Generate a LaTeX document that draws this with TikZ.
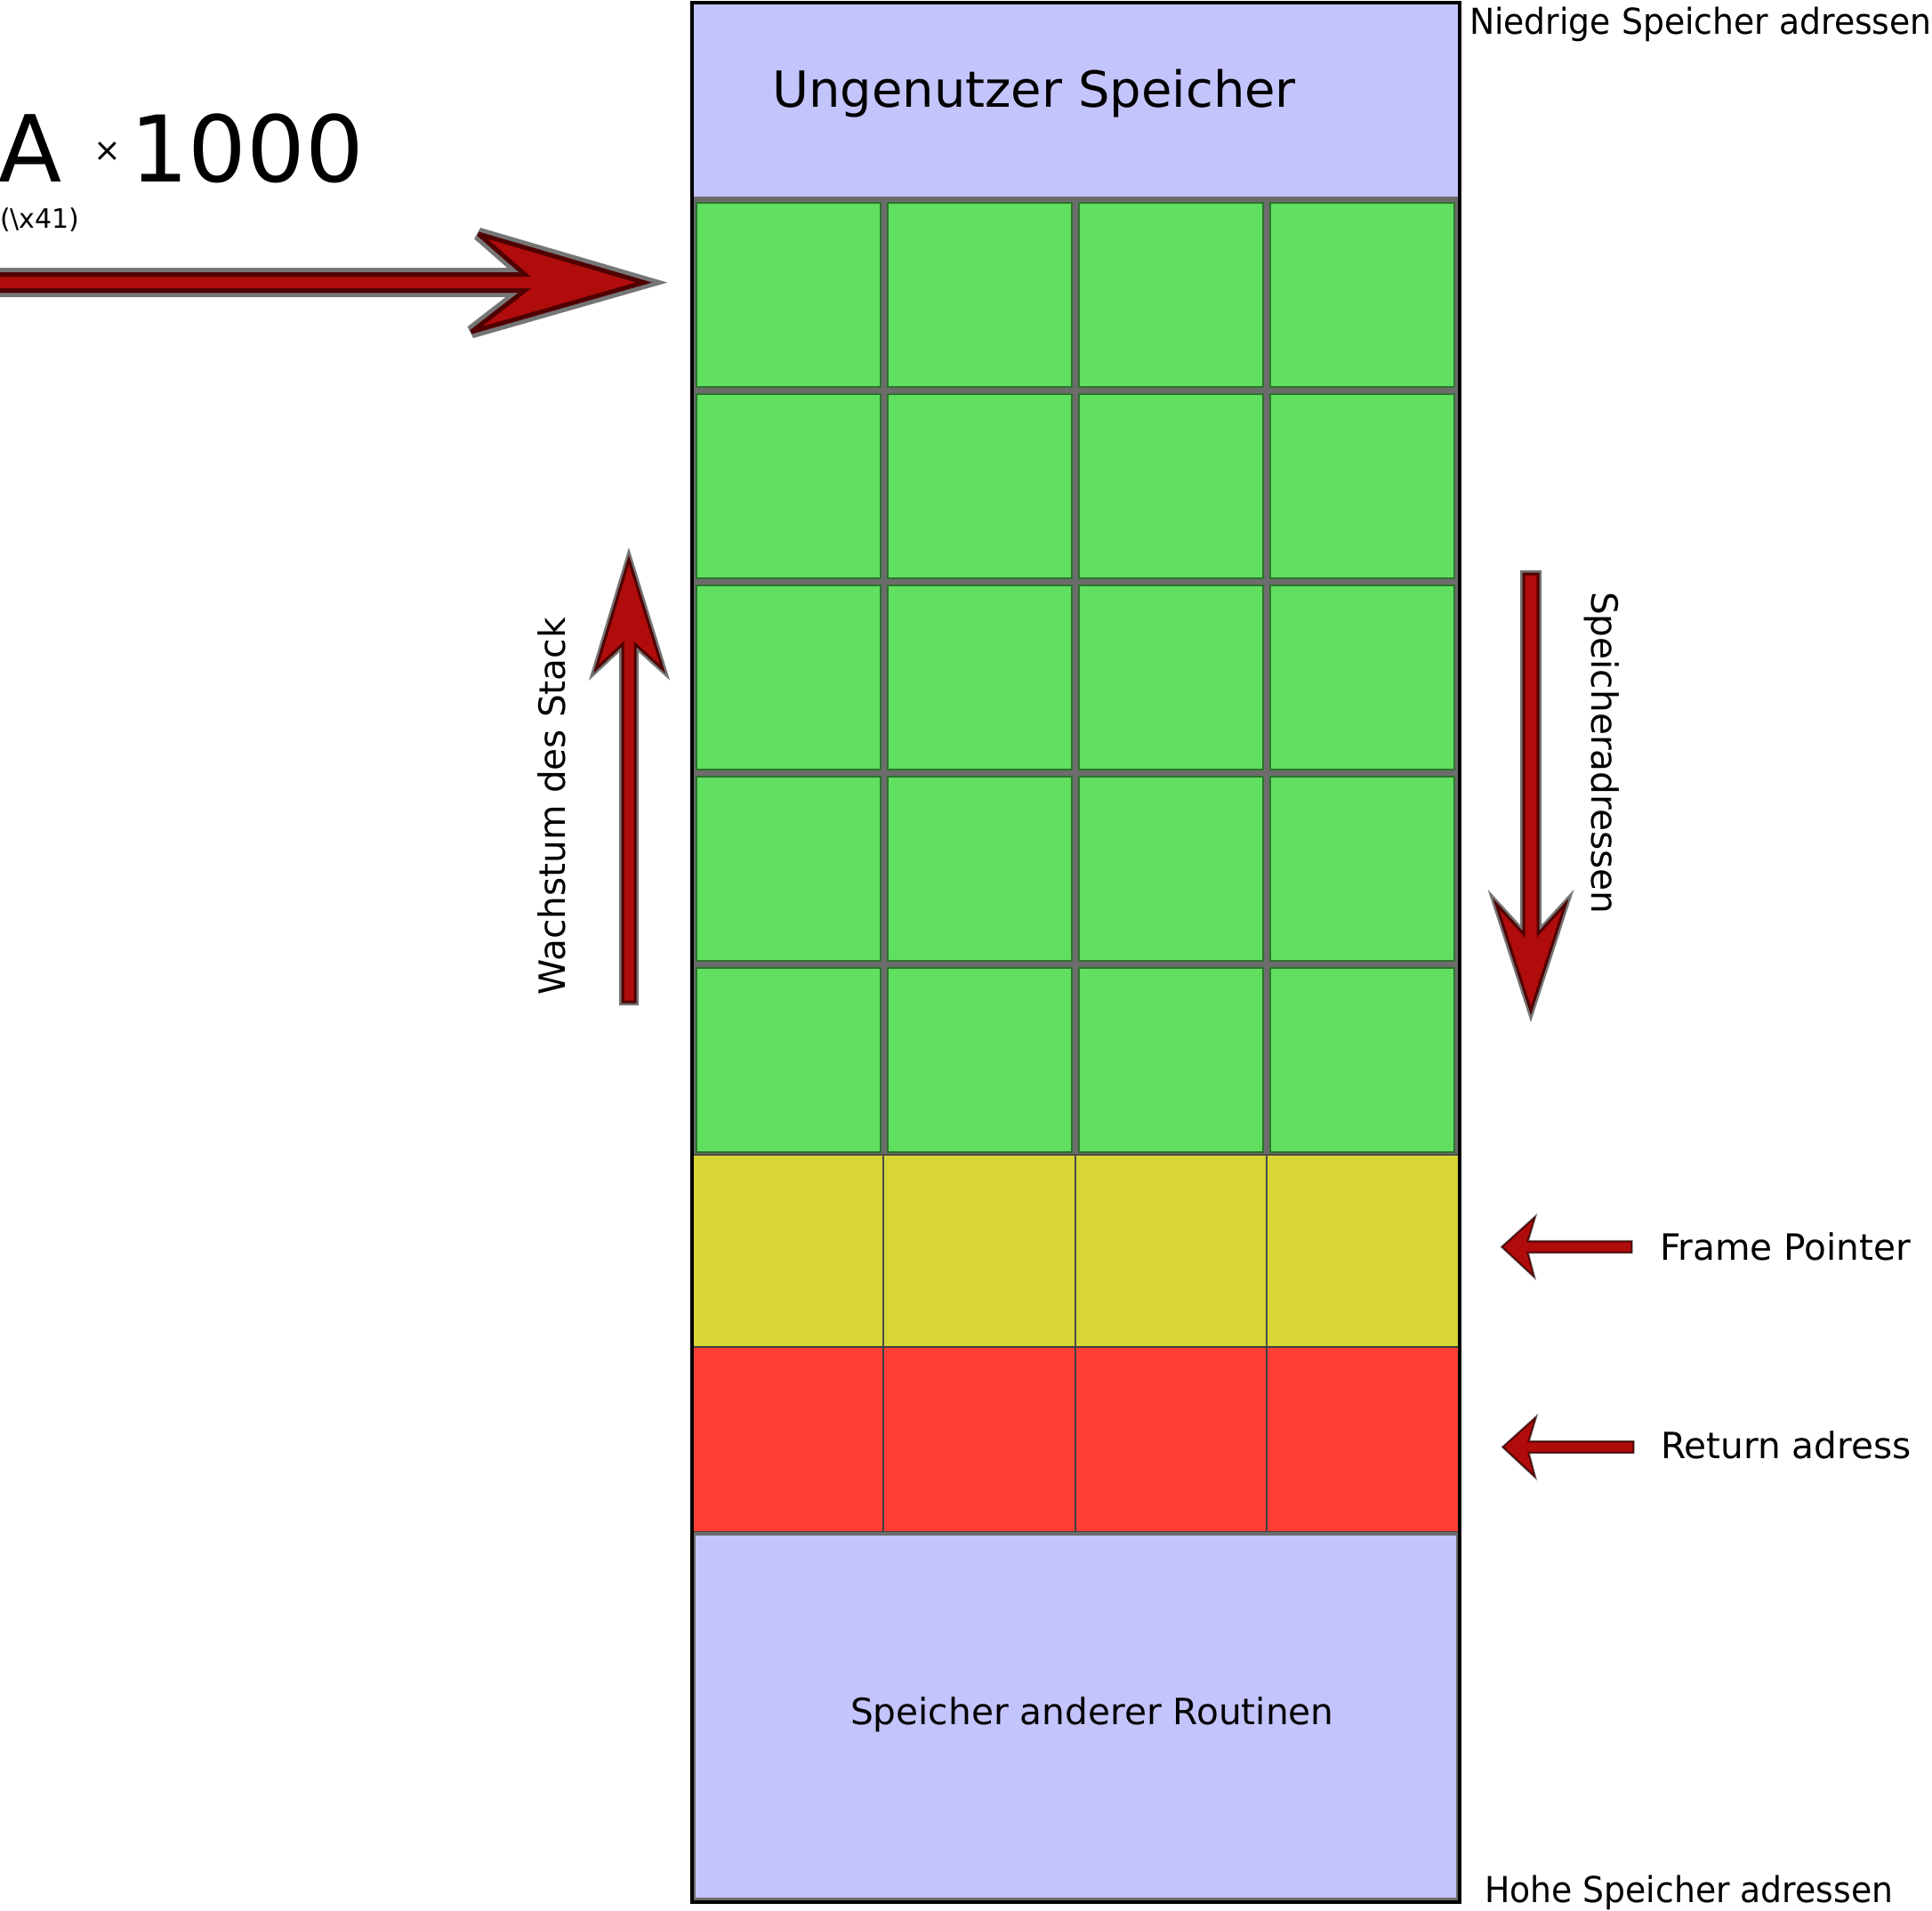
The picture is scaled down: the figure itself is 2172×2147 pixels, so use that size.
\documentclass[tikz,border=0pt]{standalone}
\usepackage{fontspec}
\setmainfont{DejaVu Sans}
\newfontfamily\narrowfont[FakeStretch=0.94]{DejaVu Sans}
\definecolor{mempurple}{RGB}{196,196,252}
\definecolor{cellgreen}{RGB}{96,223,96}
\definecolor{celldkgreen}{RGB}{45,115,45}
\definecolor{cellgray}{RGB}{108,108,108}
\definecolor{fpyellow}{RGB}{215,214,52}
\definecolor{retred}{RGB}{255,62,53}
\definecolor{arrred}{RGB}{176,12,12}
\definecolor{arrdark}{RGB}{80,0,0}
\definecolor{arrgray}{RGB}{118,118,118}
\tikzset{
  txt/.style={inner sep=0pt, outer sep=0pt, text=black},
  size40/.style={font=\fontsize{12.2}{14}\selectfont},
  % block arrows: red body, dark rim, grey halo underneath
  bigarrow/.style={fill=arrred, draw=arrdark, line width=1.5pt, line join=miter, miter limit=4.2,
    preaction={draw=arrgray, line width=4.4pt, line join=miter, miter limit=4.2}},
  midarrow/.style={fill=arrred, draw=arrdark, line width=0.9pt, line join=miter, miter limit=5,
    preaction={draw=arrgray, line width=2.4pt, line join=miter, miter limit=5}},
  smallarrow/.style={fill=arrred, draw=arrdark, line width=0.45pt, line join=miter, miter limit=5,
    preaction={draw=arrgray, line width=1.0pt, line join=miter, miter limit=5}},
  thincell/.style={line width=0.5pt},
  stackcell/.style={fill=cellgreen, draw=celldkgreen, line width=0.6pt},
}
\begin{document}
\begin{tikzpicture}[x=0.3pt, y=-0.3pt]
\useasboundingbox (0,0) rectangle (2172,2147);

% unused memory on top
\fill[mempurple] (778,3) rectangle (1641,221);

% stack cells on a grey background
\fill[cellgray] (778,221) rectangle (1641,1298);
\foreach \r in {0,...,4}
  \foreach \c in {0,...,3}
    \path[stackcell] ({783+215*\c},{228+215*\r}) rectangle +(207,207);

% frame pointer row
\foreach \xa/\xb in {779/993, 993/1209, 1209/1424, 1424/1641}
  \draw[thincell, fill=fpyellow, draw=black!70] (\xa,1298) rectangle (\xb,1514);

% return address row
\foreach \xa/\xb in {779/993, 993/1209, 1209/1424, 1424/1641}
  \draw[thincell, fill=retred, draw=black!75] (\xa,1514) rectangle (\xb,1722);

% memory of other routines
\draw[fill=mempurple, draw=cellgray, line width=1.2pt] (780,1724) rectangle (1639,2135);

% outer frame
\draw[black, line width=1.1pt] (778,3) rectangle (1641,2138);

% arrow into the stack
\path[bigarrow] (-20,308.5) -- (590,308.5) -- (538,263) -- (724,317.5) -- (530,373) -- (590,326.5) -- (-20,326.5) -- cycle;

% growth direction (upwards)
\path[midarrow] (700,1126) -- (700,724) -- (670,752) -- (707,629) -- (745,752) -- (714,724) -- (714,1126) -- cycle;

% address direction (downwards)
\path[midarrow] (1713,645) -- (1713,1050) -- (1682,1016) -- (1721,1136) -- (1760,1016) -- (1729,1050) -- (1729,645) -- cycle;

% pointer arrows
\path[smallarrow] (1834,1395.5) -- (1717,1395.5) -- (1725,1369) -- (1689,1401.5) -- (1724,1434) -- (1717,1407.5) -- (1834,1407.5) -- cycle;
\path[smallarrow] (1836,1620.5) -- (1718,1620.5) -- (1726,1594) -- (1690,1626.5) -- (1725,1659) -- (1718,1632.5) -- (1836,1632.5) -- cycle;

% labels
\node[txt, anchor=base west, font=\fontsize{16.8}{20}\selectfont] (unused) at (868,120) {Ungenutzer Speicher};
\node[txt, anchor=base west, font=\narrowfont\fontsize{12.05}{14}\selectfont] (lowaddr) at (1652,38) {Niedrige Speicher adressen};
\node[txt, anchor=base west, font=\narrowfont\fontsize{12.05}{14}\selectfont] (highaddr) at (1669,2138) {Hohe Speicher adressen};
\node[txt, size40, anchor=base west] (others) at (956,1938) {Speicher anderer Routinen};
\node[txt, size40, anchor=base west] (fp) at (1866,1416) {Frame Pointer};
\node[txt, size40, anchor=base west] (ret) at (1867,1639) {Return adress};
\node[txt, size40, anchor=base west, rotate=-90] (addrdir) at (1789,665) {Speicheradressen};
\node[txt, size40, anchor=base west, rotate=90] (growth) at (635,1118) {Wachstum des Stack};

% payload annotation
\node[txt, anchor=base west, font=\fontsize{31.2}{36}\selectfont] (letterA) at (-1,204) {A};
\node[txt, anchor=center, font=\fontsize{11}{13}\selectfont] (times) at (121,171) {×};
\node[txt, anchor=base west, font=\fontsize{31}{36}\selectfont] (count) at (146,204) {1000};
\node[txt, anchor=base west, font=\fontsize{9}{11}\selectfont] (hexcode) at (0,256) {(\textbackslash x41)};
\end{tikzpicture}
\end{document}
